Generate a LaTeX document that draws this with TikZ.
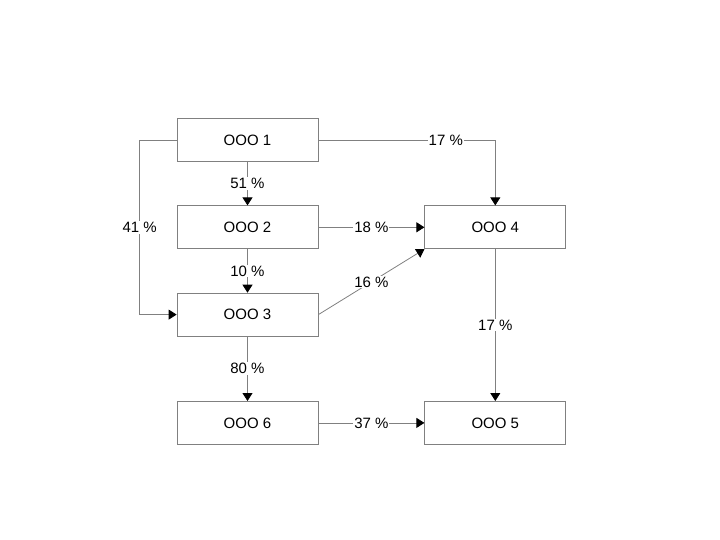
\documentclass[tikz,border=0pt]{standalone}
\usepackage{fontspec}
\setmainfont{Liberation Sans}
\usetikzlibrary{positioning,arrows.meta}

\begin{document}
\begin{tikzpicture}[>={Triangle[width=10pt,length=8pt,black]}, node distance=43.5pt and 106pt]
    \tikzstyle{firm} = [draw=gray, line width=0.8pt, fill=white,
	minimum width=141pt, minimum height=43pt, inner sep=0pt,
	font=\fontsize{15}{18}\selectfont]
    \tikzstyle{share} = [fill=white, inner sep=1pt, font=\fontsize{15}{18}\selectfont]
	\useasboundingbox (0,0) rectangle (720pt,-540pt);
		\path[->, line width=0.8pt, every edge/.style={draw=gray}]
			node[firm] (F1) at (247.5pt,-140pt) {OOO 1}
			node[firm, below=of F1] (F2) {OOO 2}
			node[firm, below=of F2] (F3) {OOO 3}
			node[firm, below=64.5pt of F3] (F6) {OOO 6}
			node[firm, right=of F2] (F4) {OOO 4}
			node[firm, right=of F6] (F5) {OOO 5}
			
			(F1.south) edge node[share] {51 \%} (F2.north)
			(F2.south) edge node[share] {10 \%} (F3.north)
			(F3.south) edge node[share] {80 \%} (F6.north)
			(F2.east) edge node[share] {18 \%} (F4.west)
			(F3.east) edge node[share] {16 \%} (F4.south west)
			(F4.south) edge node[share] {17 \%} (F5.north)
			(F6.east) edge node[share] {37 \%} (F5.west)
	   ;
		\draw[->, draw=gray, line width=0.8pt] (F1.west) -- ++(-37pt,0)
			|- node[share, pos=0.25] {41 \%} (F3.west);
		\draw[->, draw=gray, line width=0.8pt] (F1.east)
			-| node[share, pos=0.36] {17 \%} (F4.north);
\end{tikzpicture}
\end{document}
